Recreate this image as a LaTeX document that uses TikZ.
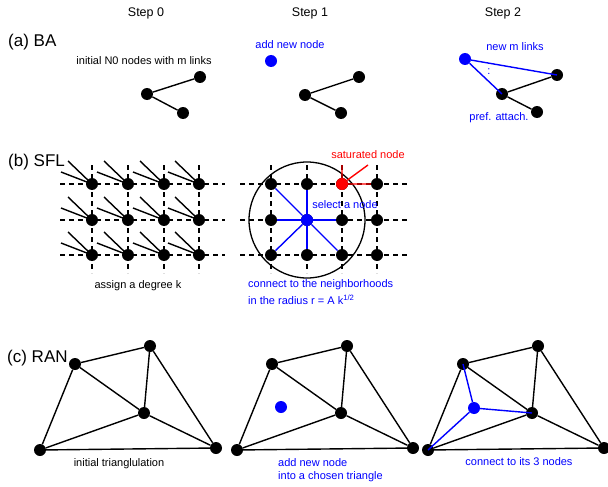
\documentclass[tikz,border=0pt]{standalone}
\usepackage{fontspec}
\setmainfont{Liberation Sans}
\begin{document}
\begin{tikzpicture}[x=1pt,y=-1pt,
  dot/.style={circle,fill=black,inner sep=0pt,minimum size=12pt},
  bdot/.style={dot,fill=blue},
  rdot/.style={dot,fill=red},
  edge/.style={line width=1.4pt,black},
  bedge/.style={line width=1.4pt,blue},
  redge/.style={line width=1.4pt,red},
  gridline/.style={line width=1.2pt,dash pattern=on 5pt off 4pt},
  lbl/.style={font=\fontsize{11}{13}\selectfont,inner sep=0pt},
  steplbl/.style={font=\fontsize{12.5}{14}\selectfont,inner sep=0pt},
  ttl/.style={font=\fontsize{17}{20}\selectfont,inner sep=0pt,anchor=west},
]
\useasboundingbox[fill=white] (0,0) rectangle (608,487);

% ---- headers
\node[steplbl] (s0) at (146,13) {Step 0};
\node[steplbl] (s1) at (310,13) {Step 1};
\node[steplbl] (s2) at (503,13) {Step 2};
\node[ttl] (ta) at (8,42) {(a) BA};
\node[ttl] (tb) at (8,162) {(b) SFL};
\node[ttl] (tc) at (7,358) {(c) RAN};

% ---- (a) BA
\node[lbl] (la0) at (144,61) {initial N0 nodes with m links};
\node[dot] (a0c) at (147,94) {};
\node[dot] (a0u) at (200,77) {};
\node[dot] (a0d) at (183,113) {};
\draw[edge] (a0c) -- (a0u) (a0c) -- (a0d);

\node[lbl,text=blue] (la1) at (290,45) {add new node};
\node[bdot] (a1n) at (271,61) {};
\node[dot] (a1c) at (305,95) {};
\node[dot] (a1u) at (359,77) {};
\node[dot] (a1d) at (341,113) {};
\draw[edge] (a1c) -- (a1u) (a1c) -- (a1d);

\node[lbl,text=blue] (la2) at (515,47) {new m links};
\node[lbl,text=blue] (la2b) at (499,118) {pref. attach.};
\node[lbl,text=blue] (la2c) at (489,72) {:};
\node[bdot] (a2n) at (465,59) {};
\node[dot] (a2c) at (502,94) {};
\node[dot] (a2u) at (557,75) {};
\node[dot] (a2d) at (537,112) {};
\draw[edge] (a2c) -- (a2u) (a2c) -- (a2d);
\draw[bedge] (a2n) -- (a2u.center) (a2n) -- (a2c.center);

% ---- (b) SFL dashed grids
\foreach \y [count=\j] in {184,220,255} {
  \coordinate (lhl\j) at (60,\y);
  \coordinate (lhr\j) at (225,\y);
  \draw[gridline] (lhl\j) -- (lhr\j);
  \coordinate (mhl\j) at (240,\y);
  \coordinate (mhr\j) at (410,\y);
  \draw[gridline] (mhl\j) -- (mhr\j);
}
\foreach \x [count=\i] in {92,128,164,199} {
  \coordinate (lvt\i) at (\x,165);
  \coordinate (lvb\i) at (\x,273);
  \draw[gridline] (lvt\i) -- (lvb\i);
}
\foreach \x [count=\i] in {271,307,342,377} {
  \coordinate (mvt\i) at (\x,165);
  \coordinate (mvb\i) at (\x,273);
  \draw[gridline] (mvt\i) -- (mvb\i);
}
% left grid nodes with stubs
\foreach \x [count=\i] in {92,128,164,199} {
  \foreach \y [count=\j] in {184,220,255} {
    \node[dot] (L\i\j) at (\x,\y) {};
    \coordinate (Lsa\i\j) at (\x-24,\y-23);
    \coordinate (Lsb\i\j) at (\x-31,\y-12);
    \draw[edge] (L\i\j.center) -- (Lsa\i\j) (L\i\j.center) -- (Lsb\i\j);
  }
}
\node[lbl] (lb0) at (138,286) {assign a degree k};

% ---- (b) SFL middle
\node[circle,draw,line width=1.3pt,minimum size=116pt,inner sep=0pt] (rad) at (307,220) {};
\foreach \x [count=\i] in {271,307,342,377} {
  \foreach \y [count=\j] in {184,220,255} {
    \node[dot] (M\i\j) at (\x,\y) {};
  }
}
\node[bdot] (Mc) at (307,220) {};
\node[rdot] (Ms) at (342,184) {};
\foreach \t in {M11,M21,M12,M32,M13,M23,M33} {
  \draw[bedge] (Mc) -- (\t);
}
\coordinate (rup) at (342,165);
\coordinate (rdiag) at (368,165);
\draw[redge] (Ms) -- (rup) (Ms) -- (rdiag) (Ms) -- (M41);
\node[lbl,text=red] (lsat) at (368,155) {saturated node};
\node[lbl,text=blue] (lsel) at (345,205) {select a node};
\node[lbl,text=blue,anchor=west] (lcon1) at (248,285) {connect to the neighborhoods};
\node[lbl,text=blue,anchor=west] (lcon2) at (248,300) {in the radius r = A k\textsuperscript{1/2}};

% ---- (c) RAN
\foreach \s/\p in {0/L,197/M,388/R} {
  \node[dot] (\p A) at (40+\s,450) {};
  \node[dot] (\p B) at (75+\s,364) {};
  \node[dot] (\p C) at (150+\s,346) {};
  \node[dot] (\p D) at (144+\s,413) {};
  \node[dot] (\p E) at (216+\s,448) {};
  \draw[edge] (\p A) -- (\p B) (\p B) -- (\p C) (\p C) -- (\p E) (\p A) -- (\p E)
    (\p B) -- (\p D) (\p C) -- (\p D) (\p A) -- (\p D) (\p D) -- (\p E);
}
\node[lbl] (lr0) at (119,464) {initial trianglulation};

\node[bdot] (Mn) at (281,407) {};
\node[lbl,text=blue,anchor=west] (lr1a) at (278,463) {add new node};
\node[lbl,text=blue,anchor=west] (lr1b) at (278,477) {into a chosen triangle};

\node[bdot] (Rn) at (474,408) {};
\draw[bedge] (Rn) -- (RA.center) (Rn) -- (RB.center) (Rn) -- (RD.center);
\node[lbl,text=blue] (lr2) at (519,462) {connect to its 3 nodes};
\end{tikzpicture}
\end{document}
